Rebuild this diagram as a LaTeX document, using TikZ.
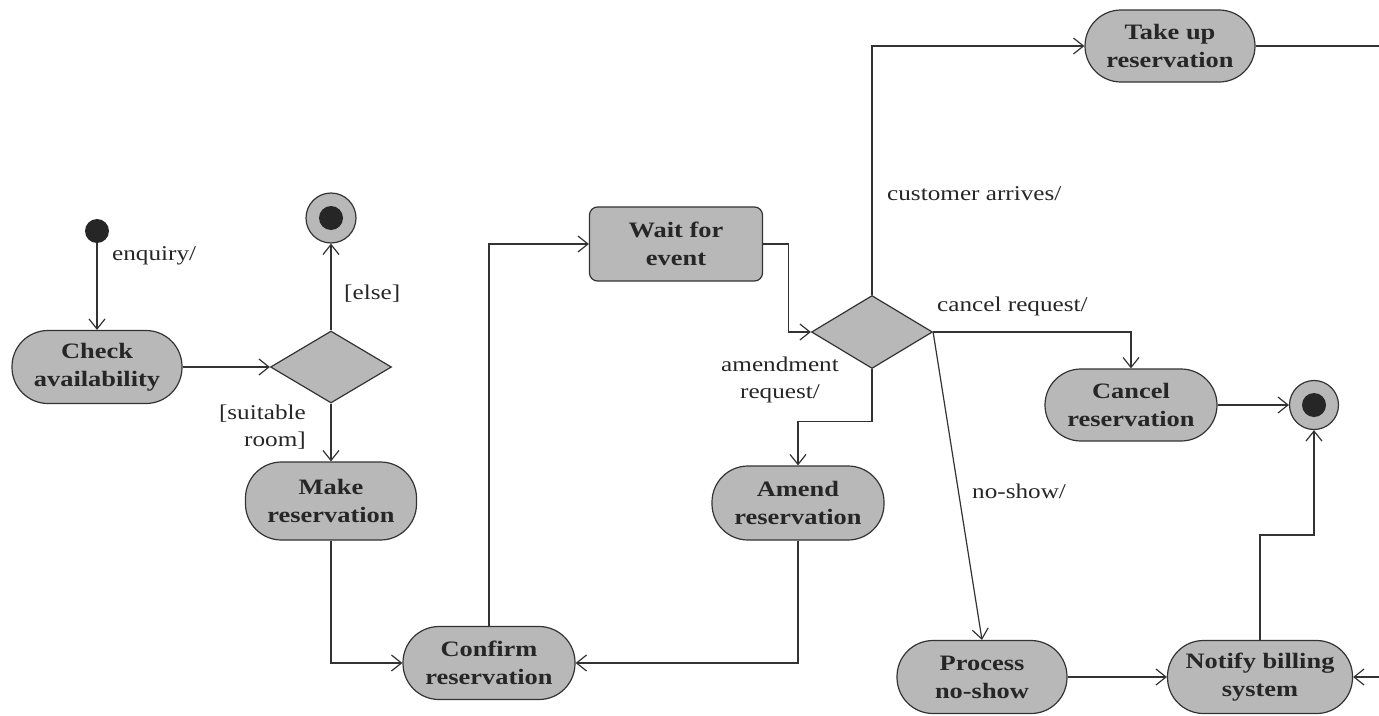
\documentclass[tikz,border=0pt]{standalone}
\usepackage{fontspec}
\setmainfont{Liberation Serif}[FakeStretch=1.2]
\usetikzlibrary{arrows.meta,shapes.geometric}

\definecolor{stategrey}{HTML}{B8B8B8}
\definecolor{inkline}{HTML}{333333}

\tikzset{
  activity/.style={draw=inkline, line width=1.2pt, fill=stategrey,
    rounded corners=36pt, align=center, inner sep=0pt,
    font=\fontsize{22}{28}\selectfont\bfseries, text=black!85},
  waitbox/.style={activity, rounded corners=8pt},
  choice/.style={draw=inkline, line width=1.2pt, fill=stategrey, shape=diamond,
    inner sep=0pt, minimum width=121pt, minimum height=72pt},
  startdot/.style={circle, fill=black!85, inner sep=0pt, minimum size=24pt},
  endring/.style={circle, draw=inkline, line width=1.2pt, fill=stategrey,
    inner sep=0pt, minimum size=50pt},
  enddot/.style={circle, fill=black!85, inner sep=0pt, minimum size=24pt},
  flow/.style={draw=inkline, line width=1.2pt,
    -{Straight Barb[length=10pt,width=16pt,line width=1.2pt]}},
  guard/.style={font=\fontsize{21}{27}\selectfont, text=black!85, inner sep=0pt}
}

\begin{document}
\begin{tikzpicture}[x=1pt, y=-1pt]
  \useasboundingbox (0,0) rectangle (1379,715);

  % activity states
  \node[activity, minimum width=170pt, minimum height=73pt] (check) at (97,367) {Check\\availability};
  \node[activity, minimum width=171pt, minimum height=78pt] (make) at (331,501) {Make\\reservation};
  \node[activity, minimum width=172pt, minimum height=73pt] (confirm) at (489,663) {Confirm\\reservation};
  \node[waitbox, minimum width=173pt, minimum height=74pt] (wait) at (676,244) {Wait for\\event};
  \node[activity, minimum width=170pt, minimum height=72pt] (take) at (1170,46) {Take up\\reservation};
  \node[activity, minimum width=172pt, minimum height=72pt] (cancel) at (1131,405) {Cancel\\reservation};
  \node[activity, minimum width=172pt, minimum height=74pt] (amend) at (798,503) {Amend\\reservation};
  \node[activity, minimum width=170pt, minimum height=73pt] (process) at (982,677) {Process\\no-show};
  \node[activity, minimum width=185pt, minimum height=73pt] (notify) at (1260,677) {Notify billing\\system};

  % decisions
  \node[choice] (dia1) at (331,367) {};
  \node[choice, minimum height=73pt] (dia2) at (872,332) {};

  % initial and final states
  \node[startdot] (init) at (97,231) {};
  \node[endring] (fin1) at (331,218) {};
  \node[enddot] at (fin1) {};
  \node[endring, minimum size=49pt] (fin2) at (1314,405) {};
  \node[enddot] at (fin2) {};

  % transitions
  \draw[flow] (init) -- (check.north);
  \draw[flow] (check.east) -- (dia1.west);
  \draw[flow] (dia1.north) -- (fin1.south);
  \draw[flow] (dia1.south) -- (make.north);
  \draw[flow] (make.south) |- (confirm.west);
  \draw[flow] (confirm.north) |- (wait.west);
  \draw[flow] (wait.east) -- ++(25,0) |- (dia2.west);
  \draw[flow] (dia2.north) |- (take.west);
  \draw[flow] (take.east) -- (1400,46) -- (1400,677) -- (notify.east);
  \draw[flow] (dia2.east) -| (cancel.north);
  \draw[flow] (cancel.east) -- (fin2.west);
  \draw[flow] (notify.north) -- ++(0,-105) -| (fin2.south);
  \draw[flow] (dia2.south) -- ++(0,52) -| (amend.north);
  \draw[flow] (amend.south) |- (confirm.east);
  \draw[flow] (dia2.east) -- (process.north);
  \draw[flow] (process.east) -- (notify.west);

  % guards and events
  \node[guard, anchor=west] (lenq) at (112,256) {enquiry/};
  \node[guard, anchor=west] (lelse) at (344,294) {[else]};
  \node[guard, anchor=east, align=right] (lsuit) at (306,427) {[suitable\\room]};
  \node[guard, anchor=west] (lcust) at (887,194) {customer arrives/};
  \node[guard, anchor=west] (lcanc) at (937,306) {cancel request/};
  \node[guard, align=center] (lamend) at (780,380) {amendment\\request/};
  \node[guard, anchor=west] (lnoshow) at (972,491) {no-show/};
\end{tikzpicture}
\end{document}
